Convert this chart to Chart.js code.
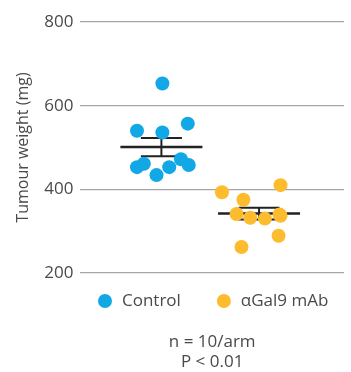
<!DOCTYPE html>
<html>
<head>
<meta charset="utf-8">
<script src="https://cdn.jsdelivr.net/npm/chart.js@4"></script>
<style>
html,body{margin:0;padding:0;background:#fff;}
#wrap{width:351px;height:372px;position:relative;}
</style>
</head>
<body>
<div id="wrap"><canvas id="c" width="351" height="372"></canvas></div>
<script>
const categories = ['Control', 'αGal9 mAb'];
const controlValues = [653, 540, 536, 557, 453, 461, 434, 453, 472, 458];
const controlJitter = [0.01, -0.25, 0.01, 0.27, -0.25, -0.18, -0.05, 0.08, 0.20, 0.28];
const gal9Values = [393, 410, 375, 341, 332, 330, 337, 289, 262, 340];
const gal9Jitter = [-0.38, 0.22, -0.16, -0.23, -0.09, 0.06, 0.22, 0.20, -0.18, 0.21];
const means = [501, 342];
const sems = [22, 14];
const yTicks = [200, 400, 600, 800];
const footnote = ['n = 10/arm', 'P < 0.01'];
const colors = ['#12A8E6', '#FDBB2E'];

const FONT = '"Open Sans", Lato, sans-serif';
const TEXT = '#4a4a4a';

function pts(vals, jit, c) {
  return vals.map((v, i) => ({ x: c + jit[i], y: v }));
}
function meanLine(i) {
  return [{ x: i - 0.42, y: means[i] }, { x: i + 0.42, y: means[i] }];
}
function errLines(i) {
  const hi = means[i] + sems[i], lo = means[i] - sems[i];
  return [
    { x: i, y: hi }, { x: i, y: lo }, { x: i, y: null },
    { x: i - 0.21, y: hi }, { x: i + 0.21, y: hi }, { x: i, y: null },
    { x: i - 0.21, y: lo }, { x: i + 0.21, y: lo }
  ];
}

const datasets = [
  { label: categories[0], data: pts(controlValues, controlJitter, 0), backgroundColor: colors[0], borderColor: colors[0], pointRadius: 7, pointHoverRadius: 7, borderWidth: 0, order: 0 },
  { label: categories[1], data: pts(gal9Values, gal9Jitter, 1), backgroundColor: colors[1], borderColor: colors[1], pointRadius: 7, pointHoverRadius: 7, borderWidth: 0, order: 0 }
];
[0, 1].forEach(i => {
  datasets.push({ label: '_mean' + i, type: 'line', data: meanLine(i), borderColor: '#222', borderWidth: 2.5, pointRadius: 0, showLine: true, spanGaps: false, fill: false, order: 1 });
  datasets.push({ label: '_err' + i, type: 'line', data: errLines(i), borderColor: '#222', borderWidth: 2, pointRadius: 0, showLine: true, spanGaps: false, fill: false, order: 1 });
});

// Legend drawn below the plot area (items: dot + label), centred on the plot area
const legendPlugin = {
  id: 'dotLegend',
  afterDraw(chart) {
    const ctx = chart.ctx, area = chart.chartArea;
    const y = area.bottom + 28;
    const r = 7, textGap = 17, itemGap = 43;
    ctx.save();
    ctx.font = '17px ' + FONT;
    const widths = categories.map(t => ctx.measureText(t).width);
    const total = r + textGap + widths[0] + itemGap + textGap + widths[1];
    let x = (area.left + area.right) / 2 - total / 2 + r + 1;
    categories.forEach((t, i) => {
      ctx.beginPath();
      ctx.fillStyle = colors[i];
      ctx.arc(x, y, r, 0, Math.PI * 2);
      ctx.fill();
      ctx.fillStyle = TEXT;
      ctx.textBaseline = 'middle';
      ctx.textAlign = 'left';
      ctx.fillText(t, x + textGap, y);
      x += textGap + widths[i] + itemGap;
    });
    ctx.restore();
  }
};

new Chart(document.getElementById('c'), {
  type: 'scatter',
  data: { datasets },
  plugins: [legendPlugin],
  options: {
    responsive: false,
    animation: false,
    layout: { padding: { top: 22, right: 2, left: 14, bottom: 0 } },
    scales: {
      x: { type: 'linear', min: -0.83, max: 1.87, display: false },
      y: {
        min: 200, max: 800,
        afterBuildTicks: (ax) => { ax.ticks = yTicks.map(v => ({ value: v })); },
        border: { display: false },
        grid: { color: '#a6a6a6', lineWidth: 1.2, drawTicks: false },
        ticks: { color: TEXT, font: { family: FONT, size: 17 }, padding: 7 },
        title: { display: true, text: 'Tumour weight (mg)', color: TEXT, font: { family: FONT, size: 16 }, padding: { top: 0, bottom: 4 } }
      }
    },
    plugins: {
      tooltip: { enabled: false },
      legend: { display: false },
      title: {
        display: true, position: 'bottom', fullSize: false,
        text: footnote, color: TEXT,
        font: { family: FONT, size: 17, weight: 'normal', lineHeight: '20px' },
        padding: { top: 59, bottom: 0 }
      }
    }
  }
});
</script>
</body>
</html>
